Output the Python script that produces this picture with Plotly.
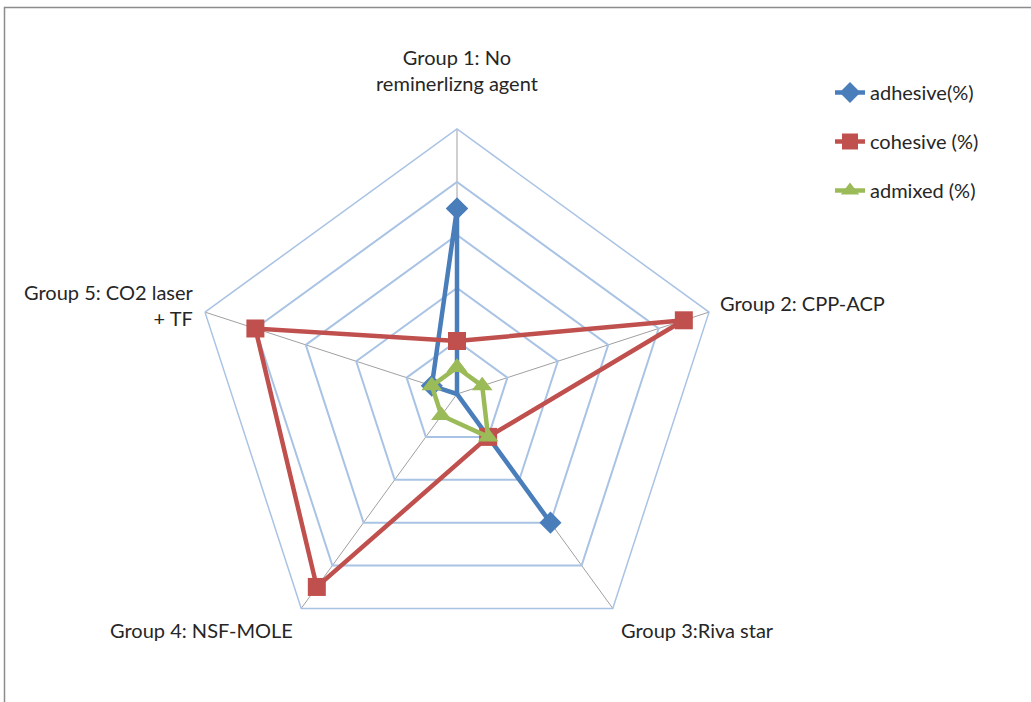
import plotly.graph_objects as go

categories = ["Group 1: No<br>reminerlizng agent", "Group 2: CPP-ACP", "Group 3:Riva star",
              "Group 4: NSF-MOLE", "Group 5: CO2 laser<br>+ TF"]
adhesive = [70, 0, 60, 0, 10]
cohesive = [20, 90, 20, 90, 80]
admixed = [10, 10, 20, 10, 10]

series = [
    ("adhesive(%)", adhesive, "#4A7EBB", "diamond", 17),
    ("cohesive (%)", cohesive, "#C0504D", "square", 18),
    ("admixed (%)", admixed, "#9BBB59", "triangle-up", 18),
]

FONT = "Lato, Roboto, sans-serif"
TXT = "#262626"

fig = go.Figure()
for i, (name, vals, color, sym, size) in enumerate(series):
    fig.add_trace(go.Scatterpolar(
        r=vals + vals[:1], theta=categories + categories[:1],
        mode="lines+markers", name=name, legendgroup=str(i),
        line=dict(color=color, width=4.5),
        marker=dict(symbol=sym, size=size, color=color),
    ))

W, H = 1031, 702
cx, cy, R = 457, 394, 265

# label placement (pixels from top-left), one per category
label_pos = [(457, 70, "center", "middle", "center"),
             (cx + 252 + 9, 303, "left", "middle", "left"),
             (cx + 156 + 6, 630, "left", "middle", "left"),
             (cx - 156 - 6, 630, "right", "middle", "right"),
             (cx - 252 - 9, 305, "right", "middle", "right")]
annotations = []
for cat, (x, y, xa, ya, al) in zip(categories, label_pos):
    annotations.append(dict(text=cat, x=x / W, y=1 - y / H, xref="paper", yref="paper",
                            xanchor=xa, yanchor=ya, align=al, showarrow=False,
                            font=dict(family=FONT, size=20, color=TXT)))

fig.update_layout(
    width=W, height=H,
    margin=dict(l=0, r=0, t=0, b=0),
    paper_bgcolor="white", plot_bgcolor="white",
    font=dict(family=FONT, size=20, color=TXT),
    polar=dict(
        domain=dict(x=[(cx - R) / W, (cx + R) / W], y=[(H - cy - R) / H, (H - cy + R) / H]),
        bgcolor="white",
        gridshape="linear",
        radialaxis=dict(range=[0, 100], dtick=20, showticklabels=False, ticks="",
                        showline=False, gridcolor="#A9C3E4", gridwidth=1.5),
        angularaxis=dict(direction="clockwise", rotation=90, showline=True,
                         linecolor="#A9C3E4", linewidth=1.5, gridcolor="#A0A0A0",
                         gridwidth=1, ticks="", showticklabels=False),
    ),
    annotations=annotations,
    legend=dict(x=830 / W, y=1 - 73 / H, xanchor="left", yanchor="top",
                font=dict(size=20, family=FONT, color=TXT),
                tracegroupgap=20, traceorder="grouped", bgcolor="rgba(0,0,0,0)"),
    shapes=[dict(type="rect", xref="paper", yref="paper",
                 x0=4.5 / W, x1=1.1, y0=-0.1, y1=1 - 7.5 / H,
                 line=dict(color="#8C8C8C", width=1.5))],
)

fig.write_html("out.html", config={"displayModeBar": False},
               post_script="document.body.style.margin='0px';")
